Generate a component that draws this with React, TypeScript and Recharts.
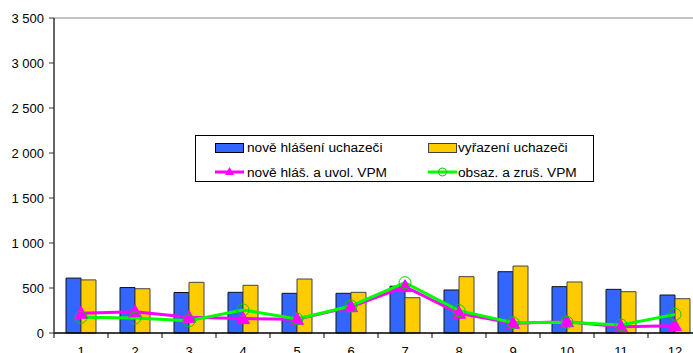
import React from 'react';
import {
  ComposedChart, Bar, Line, XAxis, YAxis, ReferenceLine,
} from 'recharts';

const months = ['1', '2', '3', '4', '5', '6', '7', '8', '9', '10', '11', '12'];
const noveHlaseni = [610, 505, 450, 452, 441, 441, 520, 478, 681, 515, 485, 422];
const vyrazeni = [590, 492, 563, 530, 600, 452, 392, 626, 744, 567, 459, 381];
const noveHlasVpm = [219, 237, 174, 160, 152, 292, 515, 219, 107, 126, 70, 81];
const obsazVpm = [174, 167, 137, 256, 156, 300, 559, 248, 115, 119, 89, 207];
const yTicks = [0, 500, 1000, 1500, 2000, 2500, 3000, 3500];

const seriesNames = {
  a: 'nově hlášení uchazeči',
  b: 'vyřazení uchazeči',
  c: 'nově hláš. a uvol. VPM',
  d: 'obsaz. a zruš. VPM',
};

const data = months.map((m, i) => ({
  month: m,
  a: noveHlaseni[i],
  b: vyrazeni[i],
  c: noveHlasVpm[i],
  d: obsazVpm[i],
}));

const FONT = '"Liberation Sans", Arial, sans-serif';
const PLOT_W = 648;
const HALF_BAND = PLOT_W / months.length / 2;

const fmt = (v: number) => String(v).replace(/\B(?=(\d{3})+(?!\d))/g, ' ');

const MonthTick = ({ x, y, payload, index }: any) => (
  <g>
    <line x1={x - HALF_BAND} x2={x - HALF_BAND} y1={y} y2={y + 5} stroke="#000" />
    {index === months.length - 1 && (
      <line x1={x + HALF_BAND} x2={x + HALF_BAND} y1={y} y2={y + 5} stroke="#000" />
    )}
    <text x={x} y={y + 23} textAnchor="middle" fontSize={13} fontFamily={FONT} fill="#000">
      {payload.value}
    </text>
  </g>
);

const Triangle = ({ cx, cy }: any) => {
  if (cx == null || cy == null) return null;
  return (
    <path
      d={`M${cx},${cy - 7} L${cx + 6.5},${cy + 5} L${cx - 6.5},${cy + 5} Z`}
      fill="#ff00ff"
      stroke="#ff00ff"
    />
  );
};

const LegendBox = () => {
  const text: React.CSSProperties = {
    position: 'absolute', fontSize: 13.7, fontFamily: FONT, lineHeight: '15px', whiteSpace: 'nowrap',
  };
  return (
    <div style={{
      position: 'absolute', left: 195, top: 135, width: 399, height: 47,
      boxSizing: 'border-box', border: '1px solid #000', background: '#fff',
    }}>
      <div style={{ position: 'absolute', left: 19, top: 7, width: 27, height: 8, background: '#3366ff', border: '1px solid #000' }} />
      <div style={{ ...text, left: 51, top: 4 }}>{seriesNames.a}</div>
      <div style={{ position: 'absolute', left: 232, top: 7, width: 27, height: 8, background: '#ffcc00', border: '1px solid #444' }} />
      <div style={{ ...text, left: 262, top: 4 }}>{seriesNames.b}</div>
      <svg style={{ position: 'absolute', left: 19, top: 29 }} width={29} height={14}>
        <line x1={0} x2={29} y1={7} y2={7} stroke="#ff00ff" strokeWidth={3} />
        <path d="M14.5,2 L19,10 L10,10 Z" fill="#ff00ff" />
      </svg>
      <div style={{ ...text, left: 51, top: 29 }}>{seriesNames.c}</div>
      <svg style={{ position: 'absolute', left: 232, top: 29 }} width={29} height={14}>
        <line x1={0} x2={29} y1={7} y2={7} stroke="#00ff00" strokeWidth={3} />
        <circle cx={14.5} cy={7} r={4} fill="none" stroke="#00cc00" strokeWidth={1} />
      </svg>
      <div style={{ ...text, left: 262, top: 29 }}>{seriesNames.d}</div>
    </div>
  );
};

export default function App() {
  return (
    <div style={{
      position: 'fixed', left: 0, top: 0, width: 693, height: 353,
      overflow: 'hidden', background: '#fff', fontFamily: FONT,
    }}>
      <ComposedChart
        width={702}
        height={363}
        data={data}
        margin={{ top: 18, right: 0, bottom: 0, left: 0 }}
        barGap={0}
      >
        <XAxis
          dataKey="month"
          height={30}
          tickSize={0}
          tickMargin={0}
          tickLine={false}
          axisLine={{ stroke: '#000', strokeWidth: 1.5 }}
          tick={<MonthTick />}
          interval={0}
        />
        <YAxis
          width={54}
          domain={[0, 3500]}
          ticks={yTicks}
          interval={0}
          tickSize={5}
          tickMargin={5}
          tickFormatter={fmt}
          axisLine={{ stroke: '#333', strokeWidth: 1.5 }}
          tickLine={{ stroke: '#333' }}
          tick={{ fill: '#000', fontSize: 13, fontFamily: FONT }}
        />
        <ReferenceLine y={3500} stroke="#888" strokeWidth={1} />
        <Bar dataKey="a" name={seriesNames.a} fill="#3366ff" stroke="#111" strokeWidth={1} barSize={15} isAnimationActive={false} />
        <Bar dataKey="b" name={seriesNames.b} fill="#ffcc00" stroke="#444" strokeWidth={1} barSize={15} isAnimationActive={false} />
        <Line
          dataKey="c"
          name={seriesNames.c}
          type="linear"
          stroke="#ff00ff"
          strokeWidth={3}
          dot={<Triangle />}
          activeDot={false}
          isAnimationActive={false}
        />
        <Line
          dataKey="d"
          name={seriesNames.d}
          type="linear"
          stroke="#00ff00"
          strokeWidth={3}
          dot={{ r: 6, fill: 'none', stroke: '#00cc00', strokeWidth: 1 }}
          activeDot={false}
          isAnimationActive={false}
        />
      </ComposedChart>
      <LegendBox />
    </div>
  );
}
